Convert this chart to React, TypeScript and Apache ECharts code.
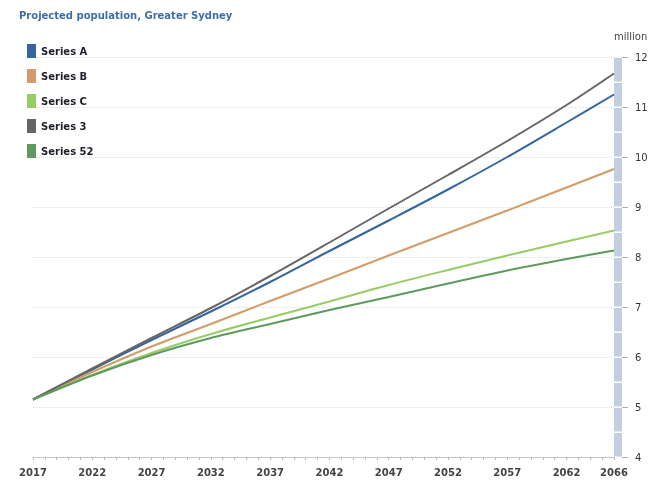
import React, { useEffect, useRef } from "react";
import * as echarts from "echarts";

const years = [2017, 2022, 2027, 2032, 2037, 2042, 2047, 2052, 2057, 2062, 2066];
const seriesA = [5.15, 5.75, 6.34, 6.91, 7.5, 8.12, 8.73, 9.35, 10.0, 10.69, 11.25];
const seriesB = [5.15, 5.7, 6.21, 6.66, 7.12, 7.57, 8.03, 8.48, 8.93, 9.39, 9.76];
const seriesC = [5.15, 5.64, 6.08, 6.46, 6.79, 7.11, 7.44, 7.74, 8.03, 8.31, 8.53];
const series3 = [5.15, 5.77, 6.38, 6.98, 7.62, 8.29, 8.97, 9.64, 10.32, 11.04, 11.67];
const series52 = [5.15, 5.63, 6.04, 6.38, 6.66, 6.94, 7.2, 7.47, 7.73, 7.96, 8.13];
const seriesNames = ["Series A", "Series B", "Series C", "Series 3", "Series 52"];
const seriesColors = ["#34659e", "#d39b68", "#98cc66", "#666666", "#5e9a5e"];
const bandSteps = [4, 4.5, 5, 5.5, 6, 6.5, 7, 7.5, 8, 8.5, 9, 9.5, 10, 10.5, 11, 11.5];
const bandYear = 2066;

const FONT = "DejaVu Sans";

export default function App() {
  const ref = useRef<HTMLDivElement>(null);
  useEffect(() => {
    if (!ref.current) return;
    const chart = echarts.init(ref.current, undefined, { renderer: "svg" });
    const all = [seriesA, seriesB, seriesC, series3, series52];
    const lineSeries = all.map((vals, i) => ({
      name: seriesNames[i],
      type: "line",
      data: years.map((y, j) => [y, vals[j]]),
      smooth: 0.3,
      symbol: "none",
      lineStyle: { width: 2, color: seriesColors[i] },
      itemStyle: { color: seriesColors[i] },
      z: 3 + i,
    }));
    chart.setOption({
      animation: false,
      textStyle: { fontFamily: FONT },
      title: {
        text: "Projected population, Greater Sydney",
        left: 14,
        top: 5,
        textStyle: { fontFamily: FONT, fontSize: 10, fontWeight: "bold", color: "#3e6eaa" },
      },
      legend: {
        orient: "vertical",
        left: 22,
        top: 39,
        itemWidth: 9,
        itemHeight: 14,
        itemGap: 11,
        icon: "rect",
        data: seriesNames,
        textStyle: { fontFamily: FONT, fontSize: 10, fontWeight: "bold", color: "#1e1e28" },
      },
      graphic: [
        {
          type: "text",
          left: 614,
          top: 31,
          style: { text: "million", font: `10px "${FONT}"`, fill: "#444" },
        },
      ],
      grid: { left: 33, right: 42, top: 57, bottom: 28, containLabel: false },
      xAxis: {
        type: "value",
        min: 2017,
        max: 2066,
        interval: 1,
        axisLine: { show: true, lineStyle: { color: "#b4bccb", type: "dotted", width: 1 } },
        axisTick: { show: true, length: 3, lineStyle: { color: "#b4bccb" } },
        splitLine: { show: false },
        axisLabel: {
          margin: 10,
          fontFamily: FONT,
          fontSize: 10,
          fontWeight: "bold",
          color: "#444",
          formatter: (v: number) => ((v - 2017) % 5 === 0 || v === 2066 ? String(v) : ""),
        },
      },
      yAxis: {
        type: "value",
        position: "right",
        offset: 8,
        min: 4,
        max: 12,
        interval: 1,
        axisLine: { show: false },
        axisTick: { show: true, length: 6, lineStyle: { color: "#a8b0bc" } },
        axisLabel: { margin: 13, fontFamily: FONT, fontSize: 10, color: "#333" },
        splitLine: { show: true, lineStyle: { color: "#dedee2", type: "dotted", width: 1 } },
      },
      series: [
        {
          type: "custom",
          name: "band",
          clip: false,
          silent: true,
          z: 1,
          data: bandSteps.map((v) => [bandYear, v]),
          renderItem: (params: any, api: any) => {
            const v = api.value(1);
            const top = api.coord([bandYear, v + 0.5]);
            const bot = api.coord([bandYear, v]);
            return {
              type: "rect",
              shape: { x: top[0], y: top[1] + 1, width: 8, height: bot[1] - top[1] - 1.5 },
              style: { fill: "#c2cfe0" },
            };
          },
        },
        ...lineSeries,
      ],
    });
    return () => chart.dispose();
  }, []);
  return (
    <div
      ref={ref}
      style={{ position: "fixed", left: 0, top: 0, width: 656, height: 485 }}
    />
  );
}
